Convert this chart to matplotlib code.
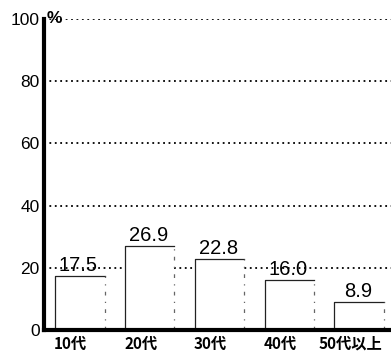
import matplotlib
matplotlib.use('Agg')
import matplotlib.pyplot as plt

plt.rcParams['font.family'] = ['Liberation Sans', 'Noto Sans CJK JP', 'DejaVu Sans']

categories = ['10代', '20代', '30代', '40代', '50代以上']
values = [17.5, 26.9, 22.8, 16.0, 8.9]
value_labels = ['17.5', '26.9', '22.8', '16.0', '8.9']
yticks = [0, 20, 40, 60, 80, 100]

fig = plt.figure(figsize=(3.91, 3.56), dpi=100)
ax = fig.add_axes([0.1125, 0.073, 0.8875, 0.874])

x = list(range(len(categories)))
bars = ax.bar(x, values, width=0.71, color='white', edgecolor='none', zorder=3)

# hand-drawn look: solid left/top edge, broken right edge
for b in bars:
    x0, x1, h = b.get_x(), b.get_x() + b.get_width(), b.get_height()
    ax.plot([x0, x0, x1], [0, h, h], color='#222222', lw=0.9, zorder=4)
    ax.plot([x1, x1], [0, h], color='#666666', lw=0.9, ls=(0, (3, 5, 1, 5)), zorder=4)

for xi, v, s in zip(x, values, value_labels):
    ax.text(xi - 0.02, v + 0.3, s, ha='center', va='bottom', fontsize=14.5, color='black', zorder=5)

for t in yticks[1:]:
    ax.axhline(t, color='black', lw=1.3, ls=(0, (1, 2)), zorder=1)

ax.set_xlim(-0.514, 4.457)
ax.set_ylim(0, 100)
ax.set_yticks(yticks)
ax.set_yticklabels([str(t) for t in yticks], fontsize=12.5, fontweight='medium')
ax.set_xticks([xi - 0.13 for xi in x])
ax.set_xticklabels(categories, fontsize=11, fontweight='semibold',
                   family=['Noto Sans CJK JP', 'DejaVu Sans'])
ax.tick_params(axis='both', length=0, pad=3)
ax.tick_params(axis='x', pad=4)

for side in ('top', 'right'):
    ax.spines[side].set_visible(False)
ax.spines['left'].set_linewidth(3)
ax.spines['bottom'].set_linewidth(3)
ax.spines['bottom'].set_zorder(6)

ax.text(0.008, 100, '%', transform=ax.get_yaxis_transform(), ha='left', va='center',
        fontsize=12.5, fontweight='bold', zorder=5)

fig.savefig('out.png', dpi=100, facecolor='white')
